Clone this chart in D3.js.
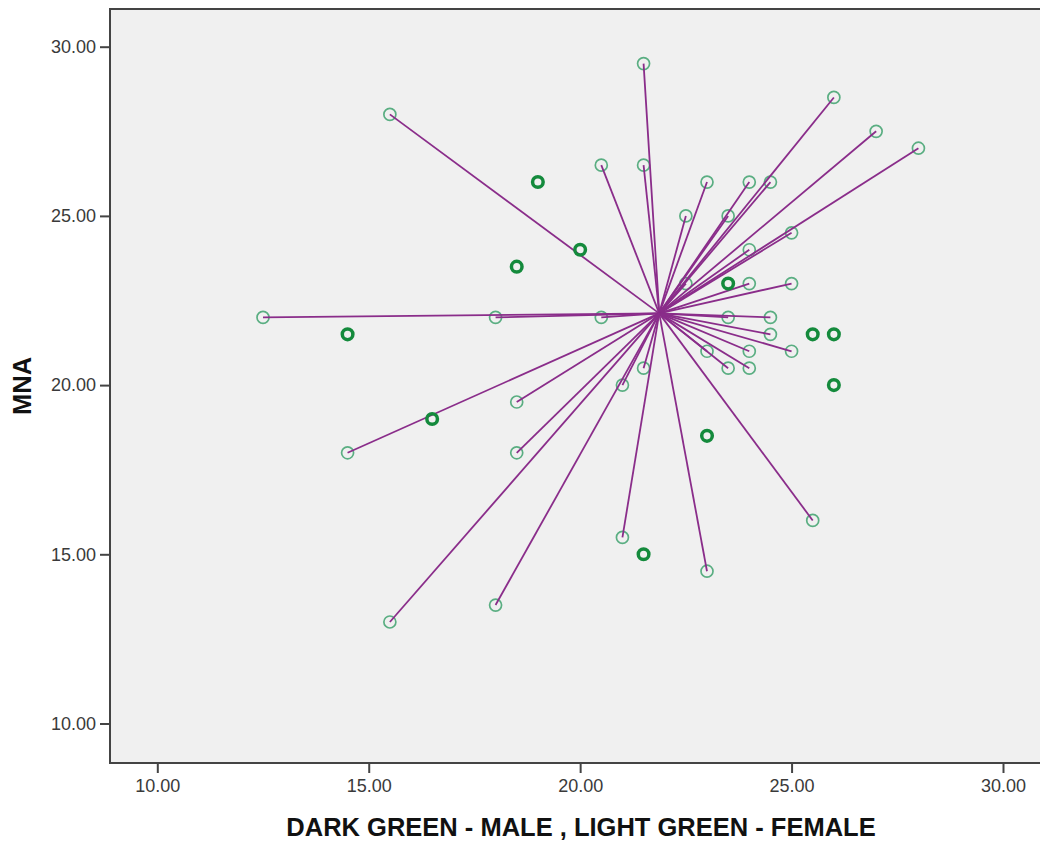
<!DOCTYPE html>
<html>
<head>
<meta charset="utf-8">
<script src="https://cdn.jsdelivr.net/npm/d3@7"></script>
<style>
  body { margin: 0; background: #fff; }
  svg { display: block; font-family: "Liberation Sans", Arial, sans-serif; }
</style>
</head>
<body>
<svg id="chart" width="1040" height="843"></svg>
<script>
// female points (light green, spiked to the group centre)
const femaleX = [21.5, 15.5, 26, 27, 28, 20.5, 21.5, 23, 24, 24.5, 22.5, 23.5, 25, 24, 22.5, 24, 25,
    12.5, 18, 20.5, 23.5, 24.5, 24.5, 23, 24, 25, 21, 21.5, 23.5, 24, 18.5, 14.5, 18.5, 25.5, 21, 23, 18, 15.5];
const femaleY = [29.5, 28, 28.5, 27.5, 27, 26.5, 26.5, 26, 26, 26, 25, 25, 24.5, 24, 23, 23, 23,
    22, 22, 22, 22, 22, 21.5, 21, 21, 21, 20, 20.5, 20.5, 20.5, 19.5, 18, 18, 16, 15.5, 14.5, 13.5, 13];

// male points (dark green)
const maleX = [19, 20, 18.5, 14.5, 16.5, 23.5, 25.5, 26, 26, 23, 21.5];
const maleY = [26, 24, 23.5, 21.5, 19, 23, 21.5, 21.5, 20, 18.5, 15];

// spike centre
const spikeCenter = [21.87, 22.12];

const xTicks = [10, 15, 20, 25, 30];
const yTicks = [10, 15, 20, 25, 30];

const svg = d3.select("#chart");

const frame = { left: 110, top: 9, right: 1041, bottom: 763 };

const x = d3.scaleLinear().domain([10, 30]).range([157.3, 1003]);
const y = d3.scaleLinear().domain([10, 30]).range([723.5, 46.7]);

svg.append("rect")
    .attr("x", frame.left)
    .attr("y", frame.top)
    .attr("width", frame.right - frame.left)
    .attr("height", frame.bottom - frame.top)
    .attr("fill", "#f0f0f0")
    .attr("stroke", "#444")
    .attr("stroke-width", 2);

const females = femaleX.map((v, i) => ({ x: v, y: femaleY[i] }));
const males = maleX.map((v, i) => ({ x: v, y: maleY[i] }));

// axes
const xAxis = d3.axisBottom(x).tickValues(xTicks).tickSize(10).tickPadding(6).tickFormat(d3.format(".2f"));
const yAxis = d3.axisLeft(y).tickValues(yTicks).tickSize(10).tickPadding(4).tickFormat(d3.format(".2f"));

const gx = svg.append("g").attr("transform", `translate(0,${frame.bottom})`).call(xAxis);
const gy = svg.append("g").attr("transform", `translate(${frame.left},0)`).call(yAxis);

[gx, gy].forEach(g => {
    g.select(".domain").remove();
    g.selectAll(".tick line").attr("stroke", "#444").attr("stroke-width", 2);
    g.selectAll(".tick text")
        .attr("fill", "#3a3a3a")
        .style("font-size", "18px")
        .style("font-family", "'Liberation Sans', Arial, sans-serif");
});

// female circles
svg.append("g")
    .selectAll("circle")
    .data(females)
    .join("circle")
    .attr("cx", d => x(d.x))
    .attr("cy", d => y(d.y))
    .attr("r", 6)
    .attr("fill", "none")
    .attr("stroke", "#5aae82")
    .attr("stroke-width", 1.7);

// spikes
svg.append("g")
    .selectAll("line")
    .data(females)
    .join("line")
    .attr("x1", x(spikeCenter[0]))
    .attr("y1", y(spikeCenter[1]))
    .attr("x2", d => x(d.x))
    .attr("y2", d => y(d.y))
    .attr("stroke", "#8a2d8a")
    .attr("stroke-width", 1.8);

// male circles
svg.append("g")
    .selectAll("circle")
    .data(males)
    .join("circle")
    .attr("cx", d => x(d.x))
    .attr("cy", d => y(d.y))
    .attr("r", 5.3)
    .attr("fill", "none")
    .attr("stroke", "#148a3c")
    .attr("stroke-width", 3.5);

// axis titles
svg.append("text")
    .attr("x", 581)
    .attr("y", 836)
    .attr("text-anchor", "middle")
    .attr("font-weight", "bold")
    .attr("font-size", 25.5)
    .attr("fill", "#111")
    .text("DARK GREEN - MALE , LIGHT GREEN - FEMALE");

svg.append("text")
    .attr("transform", "translate(31,386) rotate(-90)")
    .attr("text-anchor", "middle")
    .attr("font-weight", "bold")
    .attr("font-size", 25.5)
    .attr("fill", "#111")
    .text("MNA");
</script>
</body>
</html>
